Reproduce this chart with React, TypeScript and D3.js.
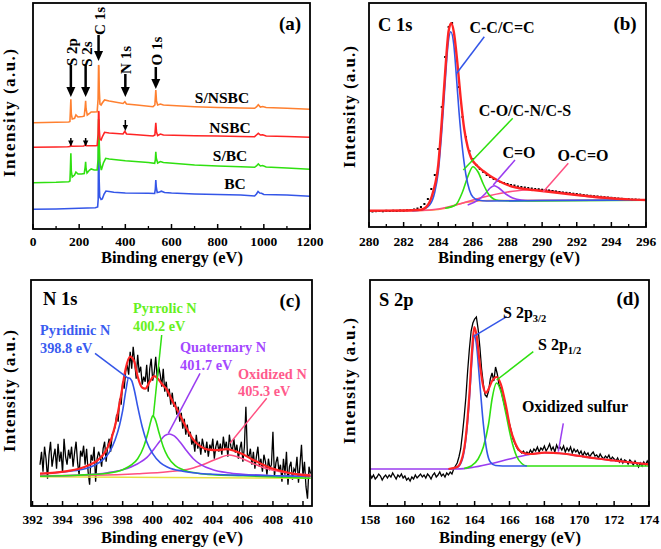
import React from "react";
import * as d3 from "d3";

type P = [number, number];
type Box = { l: number; r: number; t: number; b: number };

const FONT = "Liberation Serif, DejaVu Serif, serif";

// ---------------- Panel (a): survey spectra ----------------
const surveyTicks = [0, 200, 400, 600, 800, 1000, 1200];
const surveyMinor = [100, 300, 500, 700, 900, 1100];
const surveyBC: P[] = [[0,19.7],[100,20],[200,20.7],[270,21.3],[280,22],[282.5,30],[284,85],[285,89],[286.5,50],[289,32],[295,29.5],[300,30],[308,35],[316,38],[330,37.5],[350,36.7],[400,36],[500,35.7],[527,35.5],[530,40],[532,49],[534,42],[538,36.5],[548,37],[556,37.8],[570,36.5],[600,36],[700,35],[800,34.5],[900,34],[960,33],[968,35],[975,37.5],[982,36],[990,35.8],[1000,34.5],[1100,34],[1200,32.7]];
const surveySBC: P[] = [[0,46.3],[100,46.7],[155,47.3],[160,48],[162,60],[164,75.7],[166,58],[170,52],[180,54],[186,57],[195,55],[210,55],[222,55.5],[226,62],[228,67.3],[230,60],[234,56],[245,59],[252,60],[265,59],[278,59],[282,70],[284,109],[285.5,109],[287,85],[290,66],[296,59],[305,66],[315,70.7],[330,70],[400,68.3],[500,66.5],[527,65.7],[530,69],[532,77.3],[534,71],[540,66],[552,67.5],[565,66.5],[700,64],[800,63],[900,62.3],[960,61.7],[968,63],[976,65],[985,63],[995,63.5],[1010,62],[1100,61],[1200,59.7]];
const surveyNSBC: P[] = [[0,81.7],[100,82],[150,82.3],[160,82.5],[164,84.5],[168,82.7],[220,83],[228,84.5],[232,83.3],[270,83.3],[278,83.5],[282,95],[284,118],[285.5,117],[287,100],[290,90],[295,89],[300,92],[310,96.7],[330,96],[390,95],[398,97.7],[405,95],[450,94.3],[520,93],[528,94],[532,106.3],[535,97],[540,93.5],[552,95],[565,94],[700,93.3],[800,93],[900,92.5],[960,92.3],[968,94],[976,95.7],[985,94],[995,94.3],[1010,93],[1100,92.5],[1200,91.7]];
const surveySNSBC: P[] = [[0,106.3],[100,106.7],[155,107],[160,107.5],[162,118],[164,129.7],[166,115],[170,110],[180,110.7],[186,114],[195,112],[215,112.5],[222,113],[226,122],[228,128.3],[230,120],[235,114],[245,115.7],[252,117],[265,117],[278,117.3],[282,130],[284,164],[285.5,163],[287,140],[290,125],[295,124],[300,126],[310,129],[330,128],[390,125.5],[398,127.3],[405,125],[450,124],[520,122.3],[528,124],[532,139],[535,128],[540,124],[552,125],[565,124],[700,122.3],[800,121.5],[900,121],[960,120.7],[968,122],[976,124.3],[985,122],[995,122.5],[1010,121.5],[1100,120.7],[1200,119.7]];
const surveyNames = ["S/NSBC", "NSBC", "S/BC", "BC"];
const surveyPeakLabels = ["S 2p", "S 2s", "C 1s", "N 1s", "O 1s"];
const surveyPeakEnergies = [164, 228, 284, 400, 532];
const nsbcMarkerEnergies = [164, 228, 400];

// ---------------- Panel (b): C 1s ----------------
const c1sTicks = [280, 282, 284, 286, 288, 290, 292, 294, 296];
const c1sMinor = [281, 283, 285, 287, 289, 291, 293, 295];
const c1sRaw: P[] = [[280.2,15.5],[280.4,15.8],[280.6,16],[280.8,15.7],[281,16.2],[281.2,16],[281.4,16.3],[281.6,16.1],[281.8,16.5],[282,16.4],[282.2,16.8],[282.4,17],[282.6,17.5],[282.8,18.5],[283,20],[283.2,23],[283.4,28],[283.6,38],[283.8,52],[284,78],[284.2,120],[284.4,170],[284.6,200],[284.8,204],[285,178],[285.2,140],[285.4,110],[285.6,90],[285.8,76],[286,68],[286.2,62],[286.4,58],[286.6,55],[286.8,52],[287,50],[287.2,48],[287.4,46.5],[287.6,45],[287.8,44],[288,43],[288.2,42],[288.4,41.5],[288.6,40.5],[288.8,40],[289,39.5],[289.2,39],[289.4,38.5],[289.6,38],[289.8,37.8],[290,37.3],[290.2,37],[290.4,36.5],[290.6,36],[290.8,35.5],[291,35],[291.2,34.5],[291.4,34.2],[291.6,33.8],[291.8,33.3],[292,33],[292.2,32.5],[292.4,32],[292.6,31.5],[292.8,31.2],[293,30.8],[293.2,30.5],[293.4,30.2],[293.6,29.8],[293.8,29.5],[294,29.2],[294.2,28.8],[294.4,28.5],[294.6,28.2],[294.8,28],[295,27.8],[295.2,27.5],[295.4,27.5],[295.6,27.2]];
const c1sEnvelope: P[] = [[280,16.3],[282,16.5],[283,17.3],[283.4,22],[283.7,35],[284,62],[284.2,105],[284.4,155],[284.6,196],[284.75,203.7],[284.9,195],[285.1,165],[285.3,128],[285.5,98],[285.7,80],[285.9,69],[286.2,62],[286.6,56],[287,51],[287.5,46],[288,42],[288.5,39.5],[289,38],[289.5,37],[290,36],[291,34],[292,32],[293,30.3],[294,28.8],[295,27.6],[296,27]];
const c1sCC: P[] = [[282.5,16.3],[283,17],[283.5,22],[283.8,35],[284,55],[284.2,95],[284.4,145],[284.55,180],[284.72,195.3],[284.9,182],[285.05,150],[285.2,115],[285.4,78],[285.6,52],[285.8,37],[286,30],[286.3,27],[286.8,26],[290,26.5],[296,27]];
const c1sCO: P[] = [[284.4,18.7],[285,22],[285.4,35],[285.7,50],[286,60.3],[286.3,55],[286.6,43],[286.9,33],[287.2,28],[287.5,26.5],[288.5,26],[296,26.8]];
const c1sCdO: P[] = [[285.7,22],[286.3,27],[286.7,33],[287,39],[287.24,41.3],[287.5,39],[287.9,33],[288.3,29],[288.8,27],[289.5,26.5],[296,27]];
const c1sOCO: P[] = [[280,16],[283,16.5],[284,18],[285,22],[286,27],[287,31.5],[288,35],[289,37],[289.5,37.2],[290,37],[291,35],[292,32],[293,29.5],[294,28],[295,27.3],[296,27]];
const c1sBackground: P[] = [[280,16.3],[283,16.5],[284,17.5],[284.7,20],[285.2,23],[286,25.5],[287,26.5],[290,26.8],[296,27]];
const c1sLabels = ["C-C/C=C", "C-O/C-N/C-S", "C=O", "O-C=O"];

// ---------------- Panel (c): N 1s ----------------
const n1sTicks = [392, 394, 396, 398, 400, 402, 404, 406, 408, 410];
const n1sMinor = [393, 395, 397, 399, 401, 403, 405, 407, 409];
const n1sRawStart = 392.5;
const n1sRawStep = 0.1;
const n1sRaw = [
  12, 25, 5, 30, 18, -2, 22, 35, 10, 20,
  28, 8, 33, 15, 25, 4, 38, 20, 12, 27,
  18, 30, 10, 24, 35, 14, 2, 26, 20, 31,
  12, 28, 5, -8, 22, 16, 30, -5, 18, 25,
  20, 10, 28, 35, 15, 30, 38, 25, 42, 45,
  50, 62, 55, 78, 72, 95, 88, 105, 112, 102,
  125, 108, 130, 115, 98, 122, 104, 110, 92, 100,
  95, 112, 85, 108, 118, 96, 104, 120, 98, 110,
  102, 90, 108, 85, 95, 80, 88, 72, 84, 70,
  75, 62, 70, 55, 64, 48, 58, 42, 52, 40,
  45, 32, 38, 25, 42, 28, 35, 22, 38, 30,
  24, 35, 20, 32, 27, 38, 18, 30, 36, 25,
  33, 22, 40, 28, 35, 20, 42, 30, 26, 38,
  24, 32, 18, 28, 35, 15, 30, 70, 22, 20,
  28, 12, 25, 8, 20, 30, 10, 18, 5, 22,
  15, 2, 18, 8, 12, 45, 0, 14, 20, 5,
  12, -5, 18, 2, 25, -8, 10, 15, -3, 8,
  5, 20, -6, 12, 32, 0, 15, -10, -22, 10, 3,
];
const n1sEnvelope: P[] = [[392.5,3],[393.5,4],[394.5,6],[395.5,10],[396.3,16],[396.8,24],[397.2,36],[397.6,58],[397.9,82],[398.2,108],[398.5,120],[398.75,116],[399,100],[399.3,89],[399.5,88],[399.8,95],[400.1,100.5],[400.35,98],[400.6,93],[400.9,88],[401.3,76],[401.8,62],[402.3,47],[402.7,37],[403.2,30],[403.7,27],[404.3,26.5],[404.9,27.5],[405.4,26],[406,22.5],[406.6,17.5],[407.2,13],[407.8,9],[408.5,6],[409.3,3],[410,1.5],[410.5,1]];
const n1sPyridinic: P[] = [[392.5,3],[393.5,4],[394.5,5.5],[395.5,8],[396.2,12],[396.7,17],[397.1,24],[397.5,37],[397.8,52],[398,66],[398.2,85],[398.4,99],[398.6,96],[398.8,85],[399,70],[399.3,50],[399.6,35],[400,23],[400.5,14],[401,9.5],[402,5.5],[403,3.5],[404,2.5],[406,1.5],[408,1],[410.5,0.5]];
const n1sPyrrolic: P[] = [[392.5,0.5],[395,1.5],[397,3.5],[398,7],[398.6,12],[399,18],[399.4,30],[399.7,45],[399.9,57],[400,61],[400.15,58],[400.4,45],[400.7,30],[401,20],[401.5,11],[402,7],[403,3.5],[404,2],[406,1],[410.5,-1.5]];
const n1sQuaternary: P[] = [[392.5,0.5],[395,1.5],[397,4],[398,7],[399,13],[399.6,19],[400.1,28],[400.5,36],[400.8,41],[401.1,42.7],[401.4,41],[401.8,35],[402.2,27],[402.7,18],[403.2,12],[404,7],[405,4],[406,2.5],[408,1],[410.5,0]];
const n1sOxidized: P[] = [[392.5,1],[396,1.5],[399,3],[401,5],[402.5,8],[403.5,13],[404.3,18],[405.1,21.7],[405.9,18.5],[406.7,13],[407.5,8.5],[408.5,5],[409.5,3],[410.5,2]];
const n1sBackground: P[] = [[392.5,0],[410.5,-1.6]];
const n1sNames = ["Pyridinic N", "Pyrrolic N", "Quaternary N", "Oxidized N"];
const n1sEnergies = ["398.8 eV", "400.2 eV", "401.7 eV", "405.3 eV"];

// ---------------- Panel (d): S 2p ----------------
const s2pTicks = [158, 160, 162, 164, 166, 168, 170, 172, 174];
const s2pMinor = [159, 161, 163, 165, 167, 169, 171, 173];
const s2pRawStart = 158;
const s2pRawStep = 0.1;
const s2pRaw = [
  -5, -9, -6, -10, -8, -5, -7, -11, -8, -6,
  -9, -6, -8, -4, -7, -10, -6, -8, -5, -9,
  -7, -11, -9, -12, -8, -10, -6, -9, -7, -5,
  -8, -6, -9, -5, -7, -10, -6, -4, -8, -6,
  -3, -7, -5, -8, -4, -6, -3, -5, 0, 3,
  6, 12, 20, 35, 52, 72, 98, 120, 138, 146,
  150, 152, 140, 122, 100, 85, 74, 72, 78, 90,
  96, 88, 102, 95, 84, 80, 72, 65, 58, 52,
  45, 38, 30, 26, 22, 19, 18, 16, 18, 15,
  17, 15, 19, 16, 20, 18, 22, 17, 21, 19,
  23, 18, 21, 25, 19, 22, 17, 24, 20, 22,
  19, 23, 17, 21, 18, 22, 16, 20, 17, 19,
  15, 18, 13, 17, 14, 16, 12, 15, 17, 13,
  14, 11, 15, 12, 10, 13, 11, 14, 9, 12,
  10, 8, 11, 7, 10, 6, 9, 8, 5, 9,
  7, 4, 8, 5, 2, 6, 3, 7, 4, 8,
  5,
];
const s2pEnvelope: P[] = [[162.5,0],[163,2],[163.3,12],[163.5,33],[163.7,75],[163.85,118],[163.98,142],[164.1,135],[164.3,105],[164.5,82],[164.65,76],[164.8,80],[165,88],[165.26,92],[165.5,85],[165.8,63],[166.03,42],[166.3,27],[166.6,18],[166.9,15.5],[167.2,15],[168,16.3],[169,15.5],[170,13],[171,10.5],[172,8.5],[173,6.5],[174,4.7]];
const s2p32: P[] = [[162.5,0],[163,1.5],[163.3,10],[163.5,30],[163.7,70],[163.85,110],[163.98,134],[164.1,125],[164.3,85],[164.5,45],[164.7,18],[164.9,7],[165.2,3.5],[166,3],[167,3]];
const s2p12: P[] = [[163.4,0.5],[163.8,3],[164.2,10],[164.5,22],[164.8,45],[165,70],[165.26,86],[165.5,78],[165.8,55],[166.1,30],[166.4,13],[166.7,5.5],[167,3],[168,3],[174,3]];
const s2pOxidized: P[] = [[158,0],[163,0],[164,2],[165,5.5],[166,10],[167,14],[168,16.3],[168.5,16.3],[169,15.5],[170,13],[171,10.5],[172,8.5],[173,6.5],[174,4.7]];

// ---------------- colours ----------------
const BLUE = "#3456e8";
const GREEN = "#2fe010";
const RED = "#ff2424";
const ORANGE = "#ff8030";
const PURPLE = "#9a3cf0";
const PINK = "#ff4f80";

function mkLine(x: d3.ScaleLinear<number, number>, y: d3.ScaleLinear<number, number>, curve: d3.CurveFactory = d3.curveMonotoneX) {
  return d3.line<P>().x((d) => x(d[0])).y((d) => y(d[1])).curve(curve);
}

function seq(start: number, step: number, vals: number[]): P[] {
  return vals.map((v, i) => [start + i * step, v] as P);
}

const textStyle: React.CSSProperties = { fontFamily: FONT, fontWeight: 700 };

function Frame({ box, x, ticks, minor, labelY, id }: { box: Box; x: d3.ScaleLinear<number, number>; ticks: number[]; minor: number[]; labelY: number; id: string }) {
  return (
    <g>
      <rect x={box.l} y={box.t} width={box.r - box.l} height={box.b - box.t} fill="none" stroke="#000" strokeWidth={1.8} />
      {ticks.map((t) => (
        <g key={id + "M" + t}>
          <line x1={x(t)} x2={x(t)} y1={box.b} y2={box.b - 5} stroke="#000" strokeWidth={1.5} />
          <text x={x(t)} y={labelY} textAnchor="middle" dominantBaseline="central" style={{ ...textStyle, fontSize: 13.5 }}>{t}</text>
        </g>
      ))}
      {minor.map((t) => (
        <line key={id + "m" + t} x1={x(t)} x2={x(t)} y1={box.b} y2={box.b - 3} stroke="#000" strokeWidth={1.3} />
      ))}
    </g>
  );
}

function RotLabel({ cx, cy, text, size = 17, len }: { cx: number; cy: number; text: string; size?: number; len?: number }) {
  return (
    <text transform={`translate(${cx},${cy}) rotate(-90)`} textAnchor="middle" dominantBaseline="central" style={{ ...textStyle, fontSize: size }} textLength={len} lengthAdjust={len ? "spacing" : undefined}>{text}</text>
  );
}

function T({ x, y, text, size = 16, anchor = "middle", fill = "#000" }: { x: number; y: number; text: string; size?: number; anchor?: string; fill?: string }) {
  return (
    <text x={x} y={y} textAnchor={anchor as any} dominantBaseline="central" style={{ ...textStyle, fontSize: size }} fill={fill}>{text}</text>
  );
}

function Arrow({ x, y1, y2, head, w }: { x: number; y1: number; y2: number; head: number; w: number }) {
  return (
    <g>
      <line x1={x} x2={x} y1={y1} y2={y2 - head + 1} stroke="#000" strokeWidth={w} />
      <polygon points={`${x - head * 0.45},${y2 - head} ${x + head * 0.45},${y2 - head} ${x},${y2}`} fill="#000" />
    </g>
  );
}

export default function App() {
  const boxA: Box = { l: 33, r: 310, t: 3, b: 229 };
  const xA = d3.scaleLinear().domain([0, 1200]).range([boxA.l, boxA.r]);
  const yA = d3.scaleLinear().domain([0, 226]).range([boxA.b, boxA.t]);
  const lA = mkLine(xA, yA, d3.curveLinear);

  const boxB: Box = { l: 369, r: 646, t: 3, b: 227 };
  const xB = d3.scaleLinear().domain([280, 296]).range([boxB.l, boxB.r]);
  const yB = d3.scaleLinear().domain([0, 224]).range([boxB.b, boxB.t]);
  const lB = mkLine(xB, yB);

  const boxC: Box = { l: 31, r: 312, t: 280, b: 506 };
  const xC = d3.scaleLinear().domain([391.9, 410.6]).range([boxC.l, boxC.r]);
  const yC = d3.scaleLinear().domain([-29.3, 196.7]).range([boxC.b, boxC.t]);
  const lC = mkLine(xC, yC);
  const lCraw = mkLine(xC, yC, d3.curveLinear);

  const boxD: Box = { l: 370, r: 649, t: 280, b: 506 };
  const xD = d3.scaleLinear().domain([158, 174]).range([boxD.l, boxD.r]);
  const yD = d3.scaleLinear().domain([-37, 189]).range([boxD.b, boxD.t]);
  const lD = mkLine(xD, yD);
  const lDraw = mkLine(xD, yD, d3.curveLinear);

  const surveySeries: [P[], string][] = [
    [surveyBC, BLUE],
    [surveySBC, GREEN],
    [surveyNSBC, RED],
    [surveySNSBC, ORANGE],
  ];
  const surveyLabelPos: [number, number][] = [[222, 97], [230, 127], [230, 155], [235, 183]];
  const peakTextY = [52, 54, 21, 60, 51];
  const peakArrow: [number, number][] = [[65, 97], [65, 97], [35, 61], [74, 97], [67, 89]];

  return (
    <svg width={661} height={549} style={{ position: "absolute", left: 0, top: 0, background: "#fff" }}>
      <rect x={0} y={0} width={661} height={549} fill="#fff" />
      <defs>
        {[["ca", boxA], ["cb", boxB], ["cc", boxC], ["cd", boxD]].map(([id, b]: any) => (
          <clipPath id={id} key={id}>
            <rect x={b.l} y={b.t} width={b.r - b.l} height={b.b - b.t} />
          </clipPath>
        ))}
      </defs>

      {/* ---------- (a) ---------- */}
      <g clipPath="url(#ca)">
        {surveySeries.map(([d, c], i) => (
          <path key={"sa" + i} d={lA(d) || ""} fill="none" stroke={c} strokeWidth={1.6} />
        ))}
      </g>
      <Frame box={boxA} x={xA} ticks={surveyTicks} minor={surveyMinor} labelY={241} id="a" />
      {surveyNames.map((n, i) => (
        <T key={n} x={surveyLabelPos[i][0]} y={surveyLabelPos[i][1]} text={n} size={15.5} />
      ))}
      {surveyPeakLabels.map((n, i) => (
        <g key={n}>
          <RotLabel cx={xA(surveyPeakEnergies[i]) + 1} cy={peakTextY[i]} text={n} size={15} />
          <Arrow x={xA(surveyPeakEnergies[i])} y1={peakArrow[i][0]} y2={peakArrow[i][1]} head={10} w={2.5} />
        </g>
      ))}
      {nsbcMarkerEnergies.map((e, i) => (
        <Arrow key={"na" + e} x={xA(e)} y1={i < 2 ? 138 : 120} y2={i < 2 ? 146.5 : 131} head={6} w={1.5} />
      ))}
      <T x={290} y={23} text="(a)" size={19} />
      <RotLabel cx={9} cy={113} text="Intensity (a.u.)" size={17} len={128} />
      <T x={172} y={257} text="Binding energy (eV)" size={16.5} />

      {/* ---------- (b) ---------- */}
      <g clipPath="url(#cb)">
        <path d={lB(c1sBackground) || ""} fill="none" stroke="#ffa040" strokeWidth={1.4} />
        <path d={lB(c1sOCO) || ""} fill="none" stroke={PINK} strokeWidth={1.6} />
        <path d={lB(c1sCdO) || ""} fill="none" stroke={PURPLE} strokeWidth={1.6} />
        <path d={lB(c1sCO) || ""} fill="none" stroke={GREEN} strokeWidth={1.6} />
        {c1sRaw.map((p, i) => (
          <rect key={"cr" + i} x={xB(p[0]) - 1} y={yB(p[1]) - 1} width={2} height={2} fill="#000" />
        ))}
        <path d={lB(c1sCC) || ""} fill="none" stroke={BLUE} strokeWidth={1.6} />
        <path d={lB(c1sEnvelope) || ""} fill="none" stroke={RED} strokeWidth={2.4} />
      </g>
      <Frame box={boxB} x={xB} ticks={c1sTicks} minor={c1sMinor} labelY={241} id="b" />
      <T x={378} y={25} text="C 1s" size={18.5} anchor="start" />
      <T x={625} y={23} text="(b)" size={19} />
      <line x1={484.3} y1={36.7} x2={456.7} y2={73.3} stroke={BLUE} strokeWidth={1.5} />
      <line x1={512.7} y1={118.3} x2={463.3} y2={170} stroke={GREEN} strokeWidth={1.5} />
      <line x1={515} y1={160} x2={493.3} y2={185} stroke={PURPLE} strokeWidth={1.5} />
      <line x1={568.3} y1={163.3} x2={543.3} y2={191.7} stroke={PINK} strokeWidth={1.5} />
      <T x={502} y={27} text={c1sLabels[0]} size={16} />
      <T x={525} y={110} text={c1sLabels[1]} size={16} />
      <T x={519} y={152} text={c1sLabels[2]} size={16} />
      <T x={583} y={155} text={c1sLabels[3]} size={16} />
      <RotLabel cx={349} cy={107} text="Intensity (a.u.)" size={17} len={122} />
      <T x={509} y={257} text="Binding energy (eV)" size={16.5} />

      {/* ---------- (c) ---------- */}
      <g clipPath="url(#cc)">
        <path d={lCraw(seq(n1sRawStart, n1sRawStep, n1sRaw)) || ""} fill="none" stroke="#000" strokeWidth={1.3} />
        <path d={lC(n1sBackground) || ""} fill="none" stroke="#e6e040" strokeWidth={1.4} />
        <path d={lC(n1sOxidized) || ""} fill="none" stroke={PINK} strokeWidth={1.6} />
        <path d={lC(n1sQuaternary) || ""} fill="none" stroke={PURPLE} strokeWidth={1.6} />
        <path d={lC(n1sPyrrolic) || ""} fill="none" stroke={GREEN} strokeWidth={1.6} />
        <path d={lC(n1sPyridinic) || ""} fill="none" stroke={BLUE} strokeWidth={1.6} />
        <path d={lC(n1sEnvelope) || ""} fill="none" stroke={RED} strokeWidth={2.2} />
      </g>
      <Frame box={boxC} x={xC} ticks={n1sTicks} minor={n1sMinor} labelY={519} id="c" />
      <T x={43} y={299} text="N 1s" size={18.5} anchor="start" />
      <T x={290} y={300} text="(c)" size={19} />
      <line x1={95} y1={353.3} x2={128.3} y2={378.3} stroke={BLUE} strokeWidth={1.5} />
      <line x1={161.7} y1={335} x2={153.3} y2={416.7} stroke={GREEN} strokeWidth={1.5} />
      <line x1={200} y1={373.3} x2={168.3} y2={433.3} stroke={PURPLE} strokeWidth={1.5} />
      <line x1={266.7} y1={398.3} x2={230} y2={443.3} stroke={PINK} strokeWidth={1.5} />
      <T x={40} y={330} text={n1sNames[0]} size={14.3} anchor="start" fill="#3a5cf0" />
      <T x={40} y={348} text={n1sEnergies[0]} size={14.3} anchor="start" fill="#3a5cf0" />
      <T x={133} y={308} text={n1sNames[1]} size={14.3} anchor="start" fill="#66f020" />
      <T x={133} y={326} text={n1sEnergies[1]} size={14.3} anchor="start" fill="#66f020" />
      <T x={180} y={347} text={n1sNames[2]} size={14.3} anchor="start" fill="#a448ff" />
      <T x={180} y={365} text={n1sEnergies[2]} size={14.3} anchor="start" fill="#a448ff" />
      <T x={238} y={374} text={n1sNames[3]} size={14.3} anchor="start" fill="#ff5a8c" />
      <T x={238} y={391} text={n1sEnergies[3]} size={14.3} anchor="start" fill="#ff5a8c" />
      <RotLabel cx={9} cy={391} text="Intensity (a.u.)" size={17} len={122} />
      <T x={172} y={537} text="Binding energy (eV)" size={16.5} />

      {/* ---------- (d) ---------- */}
      <g clipPath="url(#cd)">
        <path d={lDraw(seq(s2pRawStart, s2pRawStep, s2pRaw)) || ""} fill="none" stroke="#000" strokeWidth={1.3} />
        <path d={lD(s2pOxidized) || ""} fill="none" stroke={PURPLE} strokeWidth={1.6} />
        <path d={lD(s2p12) || ""} fill="none" stroke={GREEN} strokeWidth={1.6} />
        <path d={lD(s2p32) || ""} fill="none" stroke={BLUE} strokeWidth={1.6} />
        <path d={lD(s2pEnvelope) || ""} fill="none" stroke={RED} strokeWidth={2.2} />
      </g>
      <Frame box={boxD} x={xD} ticks={s2pTicks} minor={s2pMinor} labelY={519} id="d" />
      <T x={379} y={300} text="S 2p" size={18.5} anchor="start" />
      <T x={628} y={298} text="(d)" size={19} />
      <line x1={506.7} y1={316.7} x2={473.3} y2={336.7} stroke={BLUE} strokeWidth={1.5} />
      <line x1={533.3} y1={351.7} x2={496.7} y2={380} stroke={GREEN} strokeWidth={1.5} />
      <line x1={563.3} y1={423.3} x2={558.3} y2={451.7} stroke={PURPLE} strokeWidth={1.5} />
      <text x={503} y={318} style={{ ...textStyle, fontSize: 16 }}>
        S 2p<tspan style={{ fontSize: 10.5 }} dy={4}>3/2</tspan>
      </text>
      <text x={538} y={350} style={{ ...textStyle, fontSize: 16 }}>
        S 2p<tspan style={{ fontSize: 10.5 }} dy={4}>1/2</tspan>
      </text>
      <T x={575} y={406} text="Oxidized sulfur" size={16} />
      <RotLabel cx={349} cy={381} text="Intensity (a.u.)" size={17} len={126} />
      <T x={510} y={537} text="Binding energy (eV)" size={16.5} />
    </svg>
  );
}
